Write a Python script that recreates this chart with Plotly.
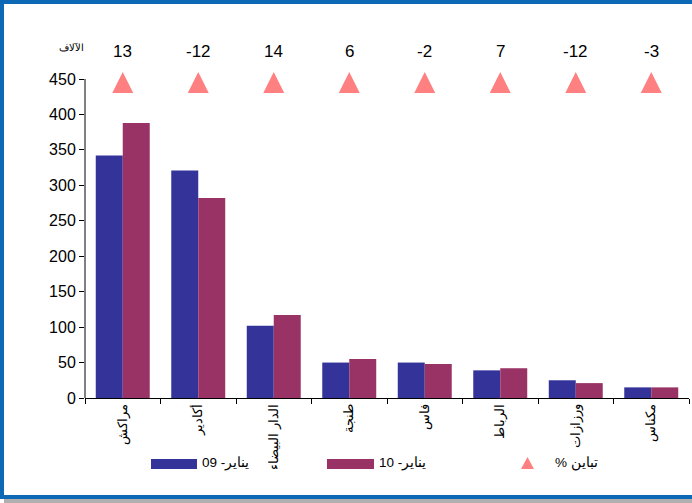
import plotly.graph_objects as go

categories = ["مراكش", "أكادير", "الدار البيضاء", "طنجة", "فاس", "الرباط", "ورزازات", "مكناس"]
jan09 = [342, 321, 102, 50, 50, 39, 25, 15]
jan10 = [388, 282, 117, 55, 48, 42, 21, 15]
variation = [13, -12, 14, 6, -2, 7, -12, -3]
triangle_level = [1, 1, 1, 1, 1, 1, 1, 1]

name09 = "يناير- 09"
name10 = "يناير- 10"
name_var = "تباين %\u200f"
unit_label = "الآلاف"

BLUE = "#333399"
RED = "#993366"
PINK = "#FF8080"
FONT = "Liberation Sans, Arial, sans-serif"

W, H = 692, 503
L, R, T, B = 85, 3, 72, 105
PW, PH = W - L - R, H - T - B
YMAX = 450 * PH / (H - B - 79)   # so that 450 sits at pixel row 79


def xp(px):
    return (px - L) / PW


def yp(py):
    return (H - B - py) / PH


fig = go.Figure()
fig.add_trace(go.Bar(x=categories, y=jan09, name=name09, marker_color=BLUE,
                     marker_line_width=0, showlegend=False))
fig.add_trace(go.Bar(x=categories, y=jan10, name=name10, marker_color=RED,
                     marker_line_width=0, showlegend=False))
fig.add_trace(go.Scatter(
    x=categories, y=triangle_level, yaxis="y2", mode="markers",
    marker=dict(symbol="arrow-up", size=21, color=PINK, line_width=0),
    cliponaxis=False, showlegend=False, name=name_var))

fig.update_layout(
    width=W, height=H,
    margin=dict(l=L, r=R, t=T, b=B, autoexpand=False),
    paper_bgcolor="white", plot_bgcolor="white",
    font=dict(family=FONT, color="black"),
    barmode="group", bargap=0.285, bargroupgap=0,
    xaxis=dict(range=[-0.5, len(categories) - 0.5], showline=True, linecolor="black", linewidth=1,
               ticks="outside", tickson="boundaries", ticklen=5, tickcolor="black",
               tickangle=-90, tickfont=dict(size=13), showgrid=False, automargin=False),
    yaxis=dict(range=[0, YMAX], tickvals=[0, 50, 100, 150, 200, 250, 300, 350, 400, 450],
               showline=False, ticks="outside", ticklen=5, tickcolor="black",
               tickfont=dict(size=16), showgrid=False, zeroline=False, automargin=False),
    yaxis2=dict(overlaying="y", range=[0, 1], visible=False),
    showlegend=False,
)

shapes = []
annotations = []
# y axis line from 0 to 450
shapes.append(dict(type="line", xref="paper", yref="y", x0=0, x1=0, y0=0, y1=450,
                   line=dict(color="black", width=1)))
# frame border
shapes.append(dict(type="rect", xref="paper", yref="paper",
                   x0=xp(4), x1=xp(692), y0=yp(499), y1=yp(503),
                   fillcolor="#b0b0b0", line_width=0, layer="below"))
shapes.append(dict(type="rect", xref="paper", yref="paper",
                   x0=xp(2), x1=xp(700), y0=yp(497), y1=yp(2),
                   line=dict(color="#0d68b6", width=4), fillcolor="rgba(0,0,0,0)"))
# legend swatches
shapes.append(dict(type="rect", xref="paper", yref="paper",
                   x0=xp(151), x1=xp(197), y0=yp(469), y1=yp(459),
                   fillcolor=BLUE, line_width=0))
shapes.append(dict(type="rect", xref="paper", yref="paper",
                   x0=xp(327), x1=xp(374), y0=yp(469), y1=yp(459),
                   fillcolor=RED, line_width=0))
shapes.append(dict(type="path", xref="paper", yref="paper",
                   path=f"M {xp(521)} {yp(469)} L {xp(534)} {yp(469)} L {xp(527.5)} {yp(457)} Z",
                   fillcolor=PINK, line_width=0))
for x0, txt in [(200, name09), (377, name10), (553, name_var)]:
    annotations.append(dict(xref="paper", yref="paper", x=xp(x0), y=yp(463),
                            xanchor="left", yanchor="middle", text=txt, showarrow=False,
                            font=dict(size=13.5, color="black", family=FONT)))
annotations.append(dict(xref="paper", yref="paper", x=xp(71), y=yp(47),
                        xanchor="center", yanchor="middle", text=unit_label, showarrow=False,
                        font=dict(size=10, color="black", family=FONT)))
# variation labels above each triangle
for cat, v in zip(categories, variation):
    annotations.append(dict(xref="x", yref="paper", x=cat, y=yp(52),
                            xanchor="center", yanchor="middle", text=str(v), showarrow=False,
                            font=dict(size=17, color="black", family=FONT)))

fig.update_layout(shapes=shapes, annotations=annotations)
fig.write_html("out.html", config={"displayModeBar": False},
               post_script="document.body.style.margin='0';document.body.style.overflow='hidden';")
